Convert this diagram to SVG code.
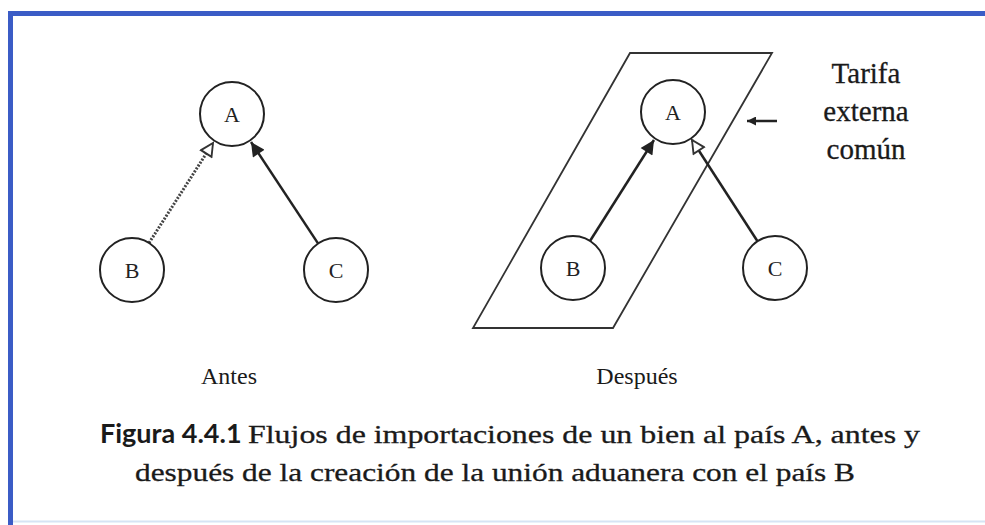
<svg xmlns="http://www.w3.org/2000/svg" width="985" height="525" viewBox="0 0 985 525">
<defs>
<style>
.node{fill:#fff;stroke:#222;stroke-width:2}
.lbl{font-family:"Liberation Serif",serif;font-size:22px;fill:#222;text-anchor:middle}
.ser{font-family:"Liberation Serif",serif;fill:#1a1a1a}
.heavy{stroke:#1a1a1a;stroke-width:0.3}
.edge{stroke:#222;stroke-width:2.5;fill:none}
.dot{stroke:#444;stroke-width:3;stroke-dasharray:2 1.5;fill:none}
</style>
<marker id="solid" viewBox="0 0 10 10" refX="10" refY="5" markerWidth="16" markerHeight="14" markerUnits="userSpaceOnUse" orient="auto">
<path d="M0,0 L10,5 L0,10 Z" fill="#222"/>
</marker>
<marker id="hollow" viewBox="0 0 12 12" refX="11" refY="6" markerWidth="17" markerHeight="15" markerUnits="userSpaceOnUse" orient="auto">
<path d="M1,1 L11,6 L1,11 Z" fill="#fff" stroke="#333" stroke-width="1.5"/>
</marker>
<marker id="small" viewBox="0 0 10 10" refX="10" refY="5" markerWidth="10" markerHeight="9" markerUnits="userSpaceOnUse" orient="auto">
<path d="M0,0 L10,5 L0,10 Z" fill="#222"/>
</marker>
</defs>
<rect width="985" height="525" fill="#fff"/>
<line x1="8" y1="13.5" x2="985" y2="13.5" stroke="#3b5cc6" stroke-width="5"/>
<line x1="10.5" y1="11" x2="10.5" y2="525" stroke="#3b5cc6" stroke-width="5"/>
<line x1="13" y1="521.5" x2="985" y2="521.5" stroke="#d6e4f4" stroke-width="2"/>

<g id="frame-cet">
<polygon points="630,53 772,53 613,328 473,328" fill="none" stroke="#333" stroke-width="1.8"/>
</g>

<g id="connectors">
<line class="dot" x1="149" y1="243" x2="213" y2="143" marker-end="url(#hollow)"/>
<line class="edge" x1="318" y1="243.4" x2="251" y2="142" marker-end="url(#solid)"/>
<line class="edge" x1="590" y1="241" x2="654" y2="140" marker-end="url(#solid)"/>
<line class="edge" x1="757.5" y1="241.2" x2="692" y2="140" marker-end="url(#hollow)"/>
<line class="edge" stroke-width="1.8" x1="777" y1="121" x2="747" y2="121" marker-end="url(#small)"/>
</g>

<g id="antes-A"><circle class="node" cx="232" cy="114" r="32"/><text class="lbl" x="232" y="122">A</text></g>
<g id="antes-B"><circle class="node" cx="132" cy="270" r="32"/><text class="lbl" x="132" y="278">B</text></g>
<g id="antes-C"><circle class="node" cx="336" cy="270" r="32"/><text class="lbl" x="336" y="278">C</text></g>

<g id="despues-A"><circle class="node" cx="673" cy="112" r="32"/><text class="lbl" x="673" y="120">A</text></g>
<g id="despues-B"><circle class="node" cx="573" cy="268" r="32"/><text class="lbl" x="573" y="276">B</text></g>
<g id="despues-C"><circle class="node" cx="775" cy="268" r="32"/><text class="lbl" x="775" y="276">C</text></g>

<g id="tarifa-label" class="ser heavy" font-size="29" text-anchor="middle">
<text x="866" y="83">Tarifa</text>
<text x="866" y="121">externa</text>
<text x="866" y="159">común</text>
</g>

<text class="ser" x="229" y="384" font-size="24" text-anchor="middle">Antes</text>
<text class="ser" x="637" y="384" font-size="24" text-anchor="middle">Después</text>

<g id="caption">
<text x="100" y="443" font-family="Lato,'Liberation Sans',sans-serif" font-weight="bold" font-size="27" fill="#1a1a1a">Figura 4.4.1</text>
<text class="ser heavy" x="248" y="443" font-size="26" textLength="672" lengthAdjust="spacingAndGlyphs">Flujos de importaciones de un bien al país A, antes y</text>
<text class="ser heavy" x="135" y="481" font-size="26" textLength="720" lengthAdjust="spacingAndGlyphs">después de la creación de la unión aduanera con el país B</text>
</g>
</svg>
